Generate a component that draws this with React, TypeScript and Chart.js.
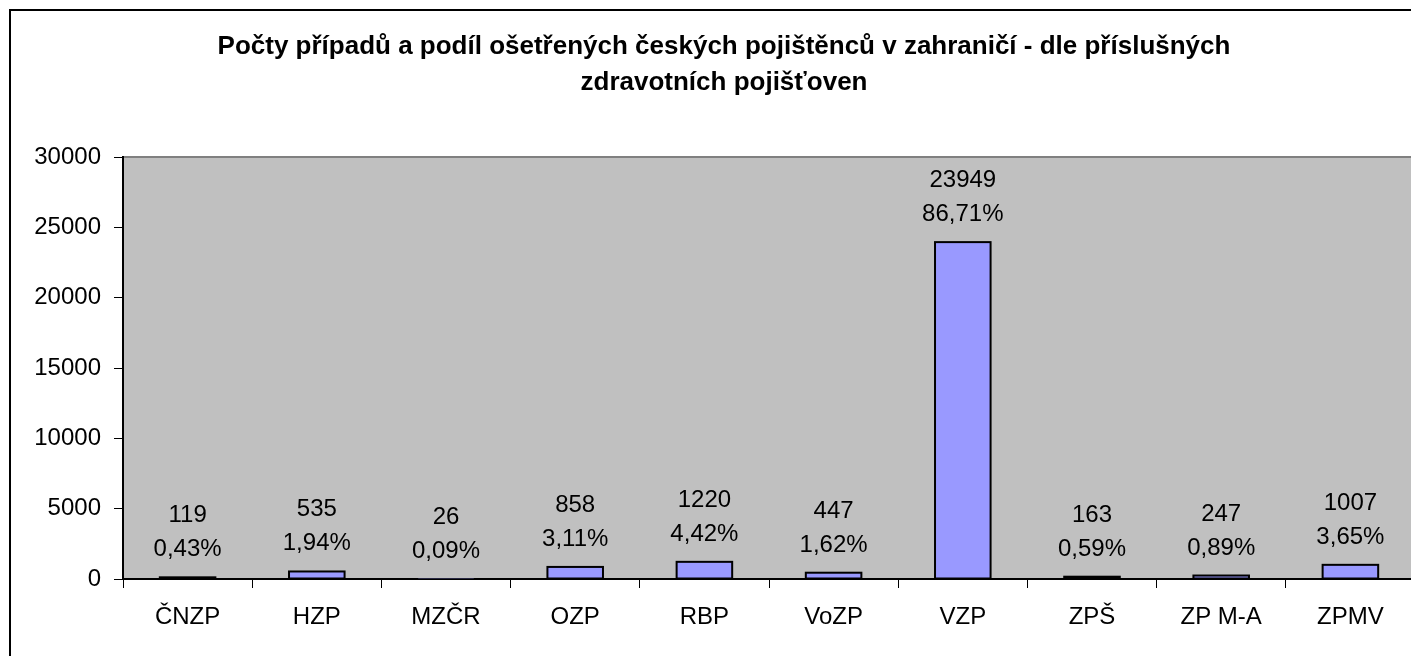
import React, { useEffect, useRef } from "react";
import { Chart, registerables } from "chart.js";

Chart.register(...registerables);

const categories = ["ČNZP", "HZP", "MZČR", "OZP", "RBP", "VoZP", "VZP", "ZPŠ", "ZP M-A", "ZPMV"];
const cases = [119, 535, 26, 858, 1220, 447, 23949, 163, 247, 1007];
const shares = ["0,43%", "1,94%", "0,09%", "3,11%", "4,42%", "1,62%", "86,71%", "0,59%", "0,89%", "3,65%"];
const yTicks = [0, 5000, 10000, 15000, 20000, 25000, 30000];
const titleLines = [
  "Počty případů a podíl ošetřených českých pojištěnců v zahraničí - dle příslušných",
  "zdravotních pojišťoven",
];

const FONT = "'Liberation Sans', Arial, sans-serif";

const decorPlugin = {
  id: "decor",
  beforeDraw(chart: any) {
    const { ctx, chartArea } = chart;
    ctx.save();
    ctx.fillStyle = "#ffffff";
    ctx.fillRect(0, 0, chart.width, chart.height);
    ctx.fillStyle = "#C0C0C0";
    ctx.fillRect(chartArea.left, chartArea.top, chartArea.right - chartArea.left, chartArea.bottom - chartArea.top);
    ctx.strokeStyle = "#808080";
    ctx.lineWidth = 2;
    ctx.beginPath();
    ctx.moveTo(chartArea.left, chartArea.top);
    ctx.lineTo(chartArea.right, chartArea.top);
    ctx.stroke();
    // outer chart border
    ctx.strokeStyle = "#000000";
    ctx.lineWidth = 2;
    ctx.strokeRect(2, 2, chart.width + 20, chart.height + 20);
    // title
    ctx.fillStyle = "#000000";
    ctx.font = `bold 26px ${FONT}`;
    ctx.textAlign = "center";
    ctx.textBaseline = "alphabetic";
    ctx.fillText(titleLines[0], 716, 46);
    ctx.fillText(titleLines[1], 716, 82);
    ctx.restore();
  },
  afterDatasetsDraw(chart: any) {
    const { ctx } = chart;
    const meta = chart.getDatasetMeta(0);
    ctx.save();
    // bar outlines (full rectangle, like the original)
    ctx.strokeStyle = "#000000";
    ctx.lineWidth = 2;
    meta.data.forEach((bar: any) => {
      const h = bar.base - bar.y;
      if (h >= 1) {
        ctx.strokeRect(bar.x - bar.width / 2, bar.y, bar.width, h);
      }
    });
    ctx.fillStyle = "#000000";
    ctx.font = `24px ${FONT}`;
    ctx.textAlign = "center";
    ctx.textBaseline = "alphabetic";
    meta.data.forEach((bar: any, i: number) => {
      const top = bar.y;
      ctx.fillText(String(cases[i]), bar.x, top - 55);
      ctx.fillText(shares[i], bar.x, top - 21);
    });
    ctx.restore();
  },
};

export default function App() {
  const ref = useRef<HTMLCanvasElement | null>(null);
  useEffect(() => {
    if (!ref.current) return;
    const chart = new Chart(ref.current, {
      type: "bar",
      data: {
        labels: categories,
        datasets: [
          {
            data: cases,
            backgroundColor: "#9999FF",
            borderWidth: 0,
            categoryPercentage: 1,
            barPercentage: 0.43,
          },
        ],
      },
      options: {
        responsive: false,
        animation: false,
        devicePixelRatio: 1,
        layout: { padding: { left: 0, top: 149, right: 33, bottom: 0 } },
        plugins: {
          legend: { display: false },
          title: { display: false },
          tooltip: { enabled: false },
        },
        scales: {
          x: {
            afterFit(scale: any) {
              scale.height = 109;
            },
            grid: {
              offset: true,
              drawOnChartArea: false,
              drawTicks: true,
              tickLength: 9,
              color: "#000000",
              lineWidth: 1,
            },
            border: { display: true, color: "#000000", width: 2 },
            ticks: {
              color: "#000000",
              font: { family: FONT, size: 24 },
              padding: 15,
              maxRotation: 0,
              autoSkip: false,
            },
          },
          y: {
            min: 0,
            max: 30000,
            afterFit(scale: any) {
              scale.width = 115;
            },
            afterBuildTicks(scale: any) {
              scale.ticks = yTicks.map((v) => ({ value: v }));
            },
            grid: {
              drawOnChartArea: false,
              drawTicks: true,
              tickLength: 9,
              color: "#000000",
              lineWidth: 1,
            },
            border: { display: true, color: "#000000", width: 2 },
            ticks: {
              color: "#000000",
              font: { family: FONT, size: 24 },
              padding: 13,
              callback: (v: any) => String(v),
            },
          },
        },
      },
      plugins: [decorPlugin],
    });
    return () => chart.destroy();
  }, []);
  return (
    <div style={{ position: "fixed", left: 8, top: 8, width: 1403, height: 648, overflow: "hidden" }}>
      <canvas ref={ref} width={1440} height={680} style={{ display: "block", width: 1440, height: 680 }} />
    </div>
  );
}
